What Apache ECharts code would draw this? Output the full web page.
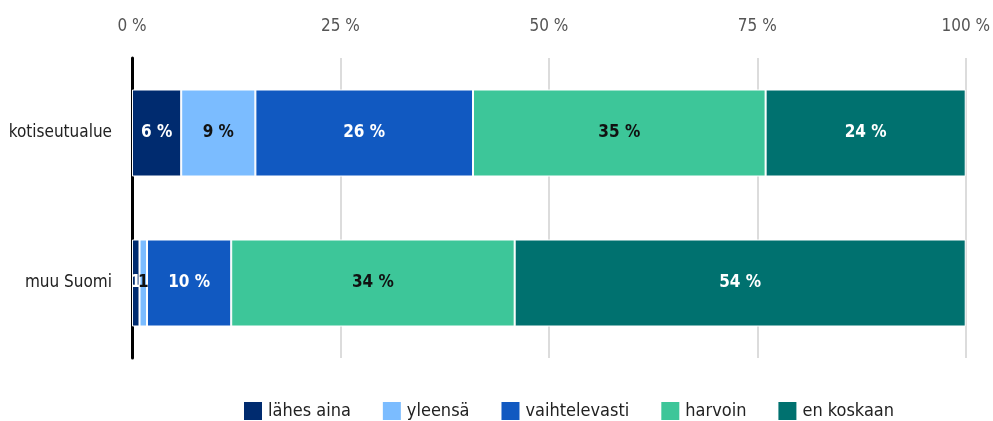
<!DOCTYPE html>
<html>
<head>
<meta charset="utf-8">
<script src="https://cdn.jsdelivr.net/npm/echarts@6/dist/echarts.min.js"></script>
<style>
  html, body { margin: 0; padding: 0; background: #fff; }
  #chart { width: 993px; height: 421px; }
</style>
</head>
<body>
<div id="chart"></div>
<script>
const categories = ["kotiseutualue", "muu Suomi"];
const seriesNames = ["lähes aina", "yleensä", "vaihtelevasti", "harvoin", "en koskaan"];
const lahesAina = [5.9, 0.9];
const yleensa = [8.9, 0.9];
const vaihtelevasti = [26.1, 10.1];
const harvoin = [35.1, 34.0];
const enKoskaan = [24.0, 54.1];
const tickLabels = [0, 25, 50, 75, 100];

const colors = ["#002b6f", "#7bbcff", "#1159c1", "#3dc699", "#00716f"],
  labelColors = ["#fff", "#111", "#fff", "#111", "#fff"];
const font = "'Liberation Sans Narrow', 'DejaVu Sans Condensed', sans-serif";

const values = [lahesAina, yleensa, vaihtelevasti, harvoin, enKoskaan];

const series = seriesNames.map((name, i) => ({
  name: name,
  type: "bar",
  stack: "total",
  barWidth: "58%",
  data: values[i],
  itemStyle: { color: colors[i], borderColor: "#fff", borderWidth: 1 },
  label: {
    show: true,
    position: "inside",
    color: labelColors[i],
    fontFamily: font,
    fontWeight: "bold",
    fontSize: 17,
    formatter: (p) => (p.value < 3 ? Math.round(p.value) : Math.round(p.value) + " %"),
  },
}));

echarts.init(document.querySelector("#chart")).setOption({
  animation: false,
  textStyle: { fontFamily: font },
  grid: { left: 132, right: 24, top: 58, bottom: 63 },
  xAxis: {
    type: "value",
    position: "top",
    min: 0,
    max: 100,
    interval: 25,
    axisLine: { show: false },
    axisTick: { show: false },
    axisLabel: {
      margin: 23,
      color: "#555",
      fontSize: 17,
      fontFamily: font,
      formatter: (v) => (tickLabels.includes(v) ? v + " %" : ""),
    },
    splitLine: { lineStyle: { color: "#dcdcdc", width: 2 } },
  },
  yAxis: {
    type: "category",
    inverse: true,
    data: categories,
    axisLine: { lineStyle: { color: "#000", width: 3 } },
    axisTick: { show: false },
    axisLabel: { color: "#222", fontSize: 17, fontFamily: font, margin: 20 },
  },
  legend: {
    top: 395,
    left: 237,
    icon: "rect",
    itemWidth: 20,
    itemHeight: 20,
    itemGap: 30,
    textStyle: { fontSize: 18, color: "#222", fontFamily: font },
    data: seriesNames,
  },
  series: series,
});
</script>
</body>
</html>
